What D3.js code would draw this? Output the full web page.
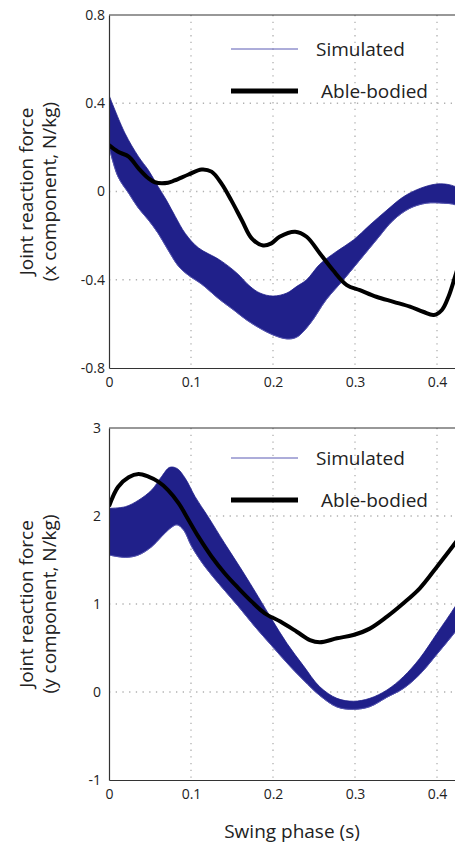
<!DOCTYPE html>
<html>
<head>
<meta charset="utf-8">
<script src="https://cdn.jsdelivr.net/npm/d3@7"></script>
<style>
  html, body { margin: 0; padding: 0; background: #fff; }
  svg { display: block; font-family: 'Open Sans', sans-serif; }
</style>
</head>
<body>
<div id="chart"></div>
<script>
// swing phase ticks (s)
const xTicks = [0, 0.1, 0.2, 0.3, 0.4];
const xForceTicks = [-0.8, -0.4, 0, 0.4, 0.8];
const yForceTicks = [-1, 0, 1, 2, 3];

// x component: envelope of the simulated bundle and the able-bodied curve, [t, value]
const xSimUpper = [
  [0, 0.437], [0.0195, 0.264], [0.036, 0.158], [0.048, 0.097], [0.06, 0.022],
  [0.07, -0.039], [0.081, -0.114], [0.093, -0.19], [0.109, -0.255], [0.135, -0.31],
  [0.156, -0.37], [0.172, -0.43], [0.184, -0.46], [0.2, -0.474], [0.217, -0.46],
  [0.229, -0.43], [0.241, -0.4], [0.257, -0.33], [0.277, -0.273], [0.298, -0.22],
  [0.318, -0.152], [0.339, -0.084], [0.359, -0.024], [0.38, 0.015], [0.4, 0.034],
  [0.416, 0.03], [0.43, 0.01]
];
const xSimLower = [
  [0, 0.203], [0.011, 0.067], [0.024, -0.008], [0.036, -0.076], [0.048, -0.129],
  [0.06, -0.19], [0.072, -0.265], [0.085, -0.34], [0.097, -0.38], [0.113, -0.42],
  [0.135, -0.49], [0.152, -0.537], [0.168, -0.583], [0.184, -0.62], [0.2, -0.65],
  [0.217, -0.668], [0.229, -0.66], [0.245, -0.6], [0.265, -0.49], [0.286, -0.4],
  [0.306, -0.31], [0.326, -0.22], [0.347, -0.129], [0.367, -0.076], [0.387, -0.053],
  [0.408, -0.053], [0.422, -0.06], [0.43, -0.08]
];
const xAble = [
  [0, 0.21], [0.011, 0.18], [0.024, 0.158], [0.036, 0.105], [0.048, 0.06],
  [0.056, 0.042], [0.072, 0.04], [0.08, 0.05], [0.097, 0.077], [0.113, 0.1],
  [0.125, 0.09], [0.137, 0.037], [0.149, -0.039], [0.162, -0.13], [0.174, -0.212],
  [0.188, -0.245], [0.198, -0.235], [0.208, -0.205], [0.227, -0.182], [0.241, -0.205],
  [0.257, -0.28], [0.273, -0.356], [0.29, -0.424], [0.306, -0.447], [0.326, -0.477],
  [0.347, -0.5], [0.367, -0.522], [0.383, -0.545], [0.396, -0.56], [0.406, -0.537],
  [0.414, -0.477], [0.422, -0.386], [0.432, -0.26]
];

// y component
const ySimUpper = [
  [0, 2.087], [0.02, 2.106], [0.036, 2.18], [0.052, 2.295], [0.064, 2.447],
  [0.074, 2.553], [0.083, 2.54], [0.093, 2.428], [0.105, 2.22], [0.121, 1.99],
  [0.141, 1.69], [0.162, 1.386], [0.182, 1.083], [0.199, 0.82], [0.217, 0.553],
  [0.237, 0.3], [0.257, 0.06], [0.278, -0.072], [0.298, -0.105], [0.318, -0.072],
  [0.339, 0.023], [0.359, 0.174], [0.379, 0.383], [0.4, 0.667], [0.422, 0.97],
  [0.43, 1.1]
];
const ySimLower = [
  [0, 1.557], [0.02, 1.53], [0.036, 1.557], [0.052, 1.65], [0.064, 1.765],
  [0.076, 1.87], [0.083, 1.9], [0.091, 1.84], [0.101, 1.65], [0.117, 1.424],
  [0.137, 1.197], [0.158, 0.97], [0.178, 0.742], [0.198, 0.53], [0.217, 0.33],
  [0.237, 0.136], [0.257, -0.04], [0.278, -0.17], [0.298, -0.197], [0.318, -0.167],
  [0.339, -0.06], [0.359, 0.04], [0.379, 0.2], [0.4, 0.43], [0.422, 0.68],
  [0.43, 0.78]
];
const yAble = [
  [0, 2.11], [0.011, 2.33], [0.024, 2.44], [0.036, 2.477], [0.048, 2.447],
  [0.06, 2.39], [0.072, 2.295], [0.085, 2.144], [0.097, 1.955], [0.109, 1.765],
  [0.125, 1.54], [0.141, 1.35], [0.158, 1.178], [0.174, 1.027], [0.19, 0.894],
  [0.209, 0.8], [0.229, 0.685], [0.245, 0.59], [0.257, 0.565], [0.278, 0.61],
  [0.298, 0.648], [0.318, 0.72], [0.339, 0.856], [0.359, 1.008], [0.379, 1.178],
  [0.4, 1.424], [0.422, 1.69], [0.432, 1.82]
];

const legendLabels = ['Simulated', 'Able-bodied'];

const width = 455,
  height = 846,
  left = 109,
  simColor = '#20208a',
  gridColor = '#b0b0b0';

const panels = [
  {
    id: 'x', top: 15, bottom: 368, domain: [-0.8, 0.8], ticks: xForceTicks,
    upper: xSimUpper, lower: xSimLower, able: xAble,
    label: ['Joint reaction force', '(x component, N/kg)'],
    legendY: [49, 91], tickX: 105
  },
  {
    id: 'y', top: 428, bottom: 780, domain: [-1, 3], ticks: yForceTicks,
    upper: ySimUpper, lower: ySimLower, able: yAble,
    label: ['Joint reaction force', '(y component, N/kg)'],
    legendY: [458, 500], tickX: 101
  }
];

const svg = d3.select('#chart')
  .append('svg')
  .attr('width', width)
  .attr('height', height);

// 0.1 s is 82 px; the plot runs on past the right edge of the window
const x = d3.scaleLinear().domain([0, 0.5]).range([left, left + 410]);

const drawPanel = p => {
  const y = d3.scaleLinear().domain(p.domain).range([p.bottom, p.top]);
  const g = svg.append('g').classed(`panel-${p.id}`, true);

  g.append('clipPath')
    .attr('id', `clip-${p.id}`)
    .append('rect')
    .attr('x', left)
    .attr('y', p.top)
    .attr('width', width - left)
    .attr('height', p.bottom - p.top);

  // dotted grid
  const grid = g.append('g').classed('grid', true);
  grid.selectAll('line.gx')
    .data(xTicks.filter(d => d > 0))
    .enter()
    .append('line')
    .attr('x1', d => x(d))
    .attr('x2', d => x(d))
    .attr('y1', p.top)
    .attr('y2', p.bottom);
  grid.selectAll('line.gy')
    .data(p.ticks.slice(1, -1))
    .enter()
    .append('line')
    .attr('x1', left)
    .attr('x2', width)
    .attr('y1', d => y(d))
    .attr('y2', d => y(d));
  grid.selectAll('line')
    .attr('stroke', gridColor)
    .attr('stroke-width', 1.3)
    .attr('stroke-dasharray', '1.3,5.4');

  const ink = g.append('g').attr('clip-path', `url(#clip-${p.id})`);

  const lineFn = d3.line()
    .x(d => x(d[0]))
    .y(d => y(d[1]))
    .curve(d3.curveCatmullRom);

  // simulated bundle: upper edge forward, lower edge back
  const upperPath = lineFn(p.upper);
  const lowerPath = lineFn(p.lower.slice().reverse());
  ink.append('path')
    .attr('d', upperPath + 'L' + lowerPath.slice(1) + 'Z')
    .attr('fill', simColor)
    .attr('stroke', simColor)
    .attr('stroke-width', 0.8);

  ink.append('path')
    .attr('d', lineFn(p.lower))
    .attr('fill', 'none')
    .attr('stroke', '#5a5ab4')
    .attr('stroke-width', 0.8);

  ink.append('path')
    .attr('d', lineFn(p.able))
    .attr('fill', 'none')
    .attr('stroke', '#000')
    .attr('stroke-width', 4)
    .attr('stroke-linejoin', 'round');

  // frame and axes
  const yAxis = d3.axisLeft(y)
    .tickValues(p.ticks)
    .tickSize(0)
    .tickPadding(left - p.tickX)
    .tickFormat(d => String(d));
  g.append('g')
    .attr('transform', `translate(${left},0)`)
    .call(yAxis)
    .call(s => s.select('.domain').attr('stroke', '#333').attr('stroke-width', 1.2));

  const xAxis = d3.axisBottom(x)
    .tickValues(xTicks)
    .tickSize(0)
    .tickPadding(9)
    .tickFormat(d => String(d));
  g.append('g')
    .attr('transform', `translate(0,${p.bottom})`)
    .call(xAxis)
    .call(s => s.select('.domain').attr('stroke', '#333').attr('stroke-width', 1.2));

  g.append('line')
    .attr('x1', left)
    .attr('x2', width)
    .attr('y1', p.top)
    .attr('y2', p.top)
    .attr('stroke', '#333')
    .attr('stroke-width', 1.2);

  g.selectAll('.tick text')
    .attr('font-size', 14)
    .attr('font-family', "'Open Sans', sans-serif")
    .attr('fill', '#222');

  // y label, two lines
  const cy = (p.top + p.bottom) / 2;
  g.selectAll('text.ylabel')
    .data(p.label)
    .enter()
    .append('text')
    .attr('class', 'ylabel')
    .attr('transform', (d, i) => `translate(${33 + i * 23},${cy}) rotate(-90)`)
    .attr('text-anchor', 'middle')
    .attr('font-size', 19)
    .attr('fill', '#222')
    .text(d => d);

  // legend
  const legend = g.append('g').classed('legend', true);
  legend.append('line')
    .attr('x1', 231).attr('x2', 298)
    .attr('y1', p.legendY[0]).attr('y2', p.legendY[0])
    .attr('stroke', '#5a5ab4')
    .attr('stroke-width', 1);
  legend.append('line')
    .attr('x1', 231).attr('x2', 298)
    .attr('y1', p.legendY[1]).attr('y2', p.legendY[1])
    .attr('stroke', '#000')
    .attr('stroke-width', 5);
  legend.selectAll('text')
    .data(legendLabels)
    .enter()
    .append('text')
    .attr('x', (d, i) => (i === 0 ? 316 : 321))
    .attr('y', (d, i) => p.legendY[i] + 7)
    .attr('font-size', 19)
    .attr('fill', '#222')
    .text(d => d);
};

panels.forEach(drawPanel);

svg.append('text')
  .attr('x', 292)
  .attr('y', 838)
  .attr('text-anchor', 'middle')
  .attr('font-size', 19)
  .attr('fill', '#222')
  .text('Swing phase (s)');
</script>
</body>
</html>
